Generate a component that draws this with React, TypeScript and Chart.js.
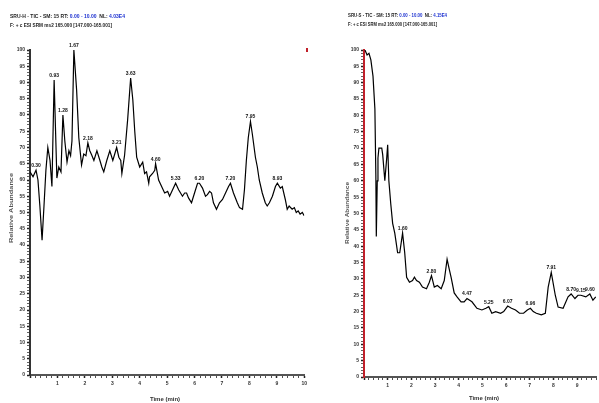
import React, { useEffect, useRef } from "react";
import { Chart, registerables } from "chart.js";
Chart.register(...registerables);

// ---- Left chromatogram (SRU-H) ----
const leftTimes = [0.0,0.11,0.22,0.29,0.36,0.44,0.51,0.58,0.65,0.73,0.8,0.88,0.98,1.05,1.13,1.2,1.27,1.35,1.42,1.48,1.53,1.6,1.7,1.78,1.88,1.96,2.04,2.11,2.18,2.25,2.33,2.44,2.55,2.62,2.69,2.8,2.91,3.02,3.09,3.16,3.24,3.31,3.35,3.45,3.56,3.67,3.75,3.82,3.89,4.0,4.11,4.18,4.25,4.33,4.36,4.47,4.55,4.58,4.69,4.8,4.91,5.02,5.09,5.2,5.31,5.42,5.49,5.56,5.64,5.71,5.78,5.89,6.0,6.11,6.18,6.29,6.4,6.47,6.55,6.62,6.69,6.8,6.91,7.02,7.13,7.24,7.31,7.42,7.56,7.64,7.75,7.82,7.89,7.96,8.04,8.11,8.22,8.29,8.36,8.47,8.58,8.65,8.73,8.84,8.95,9.02,9.13,9.2,9.31,9.38,9.45,9.56,9.64,9.71,9.78,9.85,9.93,10.0];
const leftValues = [62.5,61,63,60,52,41.5,52,63,70,66,58,90.8,60.6,64,62.5,80,72,65.5,69,67.5,72,100,87.7,73,64.6,68,67.5,71.4,69,67.7,66,69,66,64,62.5,66,69,66,68,70,67,66,62,67.7,78.5,91.4,84.6,75,67,64,65.5,62,62.5,59,61,62,63,65,60,58,56,56.5,55,57,59,57,56,55,56,56,54.5,53,56,59,59,57.5,55,55.5,56.5,56,53,51,53,54,56,58,59,56,53,51.5,51,57,66,73,78,74,67,64,60,56,53,52,53,55,58,59,57.5,58,54,51,52,51,51.5,50,50.5,49.5,50,49];
const leftPeakTimes = [0.22,0.88,1.2,1.6,2.11,3.16,3.67,4.58,5.31,6.18,7.31,8.04,9.02];
const leftPeakValues = [63,90.8,80,100,71.4,70,91.4,65,59,59,59,78,59];
const leftPeakLabels = ["0.30","0.93","1.28","1.67","2.18","3.21","3.63","4.60","5.33","6.20","7.20","7.95","8.93"];
const leftHeader1 = [["SRU-H - TIC - SM: 15 RT: ","#222"],["0.00 - 10.00","#1a2fd0"],["  NL: ","#222"],["4.03E4","#1a2fd0"]];
const leftHeader2 = "F: + c ESI SRM ms2 165.000 [147.000-165.001]";

// ---- Right chromatogram (SRU-S) ----
const rightTimes = [0.04,0.13,0.21,0.29,0.38,0.46,0.5,0.52,0.56,0.59,0.63,0.75,0.79,0.88,0.96,1.0,1.05,1.13,1.21,1.3,1.36,1.42,1.51,1.63,1.72,1.8,1.92,2.05,2.13,2.22,2.34,2.47,2.64,2.76,2.85,2.97,3.1,3.26,3.39,3.51,3.6,3.68,3.81,3.93,4.1,4.23,4.35,4.56,4.77,4.98,5.15,5.27,5.4,5.56,5.77,5.9,6.07,6.23,6.4,6.57,6.74,6.9,7.03,7.15,7.28,7.49,7.66,7.78,7.91,8.08,8.2,8.41,8.62,8.75,8.91,9.04,9.16,9.37,9.54,9.67,9.79];
const rightValues = [100,98.5,99,97,92,82,62,43,60,67,70,70,68,60,67,71,60,53,47,44,41,38,38,44,38,30.5,29,29.5,30.5,29.5,29,27.5,27,29,31,27.5,28,27,29.5,36,33,30.5,25.7,24.5,23,23,24,23,21,20.5,21,21.5,19.5,20,19.5,20,21.7,21,20.5,19.5,19.5,20.5,21,20,19.5,19,19.5,27.5,32,25,21.4,21,24.5,25.4,24,25,25,24.5,25.4,23.5,24.5];
const rightPeakTimes = [1.63,2.85,4.35,5.27,6.07,7.03,7.91,8.75,9.16,9.54];
const rightPeakValues = [44,31,24,21.5,21.7,21,32,25.4,25,25.4];
const rightPeakLabels = ["1.60","2.80","4.47","5.25","6.07","6.96","7.91","8.70","9.15","9.60"];
const rightHeader1 = [["SRU-S - TIC - SM: 15 RT: ","#222"],["0.00 - 10.00","#1a2fd0"],["  NL: ","#222"],["4.15E4","#1a2fd0"]];
const rightHeader2 = "F: + c ESI SRM ms2 165.000 [147.000-165.001]";

const yTitle = "Relative Abundance";
const xTitle = "Time (min)";

type Seg = [string, string];

function drawFitted(ctx: CanvasRenderingContext2D, segs: Seg[], x: number, y: number, w: number, font: string) {
  ctx.save();
  ctx.font = font;
  ctx.textBaseline = "middle";
  ctx.textAlign = "left";
  const total = segs.reduce((s, g) => s + ctx.measureText(g[0]).width, 0);
  const sx = w / total;
  ctx.translate(x, y);
  ctx.scale(sx, 1);
  let cx = 0;
  for (const [t, c] of segs) {
    ctx.fillStyle = c;
    ctx.fillText(t, cx, 0);
    cx += ctx.measureText(t).width;
  }
  ctx.restore();
}

interface PanelCfg {
  times: number[]; values: number[];
  peakT: number[]; peakV: number[]; peakL: string[];
  h1: Seg[]; h2: string;
  xMax: number;
  yWidth: number; xHeight: number; padRight: number;
  yAxisColor: string; yAxisDash: number[];
  h1x: number; h1w: number; h2w: number; hy: number;
  yTitleX: number; yTitleY: number; yTitleW: number;
  xTitleX: number; xTitleY: number;
  redMark?: [number, number];
}

function makeChart(canvas: HTMLCanvasElement, p: PanelCfg) {
  const textPlugin = {
    id: "texts",
    afterDraw(chart: any) {
      const ctx = chart.ctx as CanvasRenderingContext2D;
      const xs = chart.scales.x, ys = chart.scales.y;
      drawFitted(ctx, p.h1, p.h1x, p.hy, p.h1w, "bold 6px Arial");
      drawFitted(ctx, [[p.h2, "#222"]], p.h1x, p.hy + 9, p.h2w, "bold 6px Arial");
      ctx.save();
      ctx.font = "bold 5px Arial";
      ctx.fillStyle = "#111";
      ctx.textAlign = "center";
      ctx.textBaseline = "bottom";
      p.peakT.forEach((t, i) => {
        ctx.fillText(p.peakL[i], xs.getPixelForValue(t), ys.getPixelForValue(p.peakV[i]) - 2);
      });
      ctx.restore();
      // y title
      ctx.save();
      ctx.translate(p.yTitleX, p.yTitleY);
      ctx.rotate(-Math.PI / 2);
      drawFitted(ctx, [[yTitle, "#555"]], -p.yTitleW / 2, 0, p.yTitleW, "bold 5px Arial");
      ctx.restore();
      ctx.save();
      ctx.font = "bold 6px Arial";
      ctx.fillStyle = "#333";
      ctx.textAlign = "center";
      ctx.textBaseline = "middle";
      ctx.fillText(xTitle, p.xTitleX, p.xTitleY);
      ctx.restore();
      if (p.redMark) {
        ctx.save();
        ctx.fillStyle = "#c0202a";
        ctx.fillRect(p.redMark[0], p.redMark[1], 2, 4);
        ctx.restore();
      }
    },
  };
  return new Chart(canvas, {
    type: "line",
    data: {
      datasets: [{
        data: p.times.map((t, i) => ({ x: t, y: p.values[i] })),
        borderColor: "#000",
        borderWidth: 1.2,
        pointRadius: 0,
        tension: 0,
        fill: false,
      }],
    },
    options: {
      animation: false,
      responsive: false,
      events: [],
      layout: { padding: { top: 50, left: 0, right: p.padRight, bottom: 0 } },
      plugins: { legend: { display: false }, tooltip: { enabled: false } },
      scales: {
        x: {
          type: "linear", min: 0, max: p.xMax,
          afterFit: (s: any) => { s.height = p.xHeight; },
          border: { color: "#555", width: 2 },
          grid: { drawOnChartArea: false, tickLength: 3, color: "#222",
            tickWidth: (c: any) => (Math.abs(c.tick.value - Math.round(c.tick.value)) < 1e-6 ? 1.5 : 0.8) },
          ticks: {
            stepSize: 0.2, autoSkip: false, maxRotation: 0, padding: 3,
            font: { size: 5, family: "Arial", weight: "bold" }, color: "#333",
            callback: (v: any) => (Math.abs(v - Math.round(v)) < 1e-6 && Math.round(v) > 0 ? String(Math.round(v)) : ""),
          },
        },
        y: {
          min: 0, max: 100,
          afterFit: (s: any) => { s.width = p.yWidth; },
          border: { color: p.yAxisColor, width: 2, dash: p.yAxisDash },
          grid: { drawOnChartArea: false, tickLength: 3, color: "#222",
            tickWidth: (c: any) => (Math.round(c.tick.value) % 5 === 0 ? 1.5 : 0.7) },
          ticks: {
            stepSize: 1, autoSkip: false, padding: 2,
            font: { size: 5, family: "Arial", weight: "bold" }, color: "#333",
            callback: (v: any) => (Math.round(v) % 5 === 0 ? String(Math.round(v)) : ""),
          },
        },
      },
    },
    plugins: [textPlugin],
  } as any);
}

export default function App() {
  const leftRef = useRef<HTMLCanvasElement>(null);
  const rightRef = useRef<HTMLCanvasElement>(null);
  useEffect(() => {
    const c1 = makeChart(leftRef.current!, {
      times: leftTimes, values: leftValues,
      peakT: leftPeakTimes, peakV: leftPeakValues, peakL: leftPeakLabels,
      h1: leftHeader1 as Seg[], h2: leftHeader2, xMax: 10,
      yWidth: 30, xHeight: 28, padRight: 5,
      yAxisColor: "#333", yAxisDash: [],
      h1x: 10, h1w: 115, h2w: 102, hy: 16,
      yTitleX: 12, yTitleY: 208, yTitleW: 70,
      xTitleX: 165, xTitleY: 399,
      redMark: [306, 48],
    });
    const c2 = makeChart(rightRef.current!, {
      times: rightTimes, values: rightValues,
      peakT: rightPeakTimes, peakV: rightPeakValues, peakL: rightPeakLabels,
      h1: rightHeader1 as Seg[], h2: rightHeader2, xMax: 9.8,
      yWidth: 54, xHeight: 26, padRight: 1,
      yAxisColor: "#c0202a", yAxisDash: [2, 1],
      h1x: 38, h1w: 99, h2w: 89, hy: 15,
      yTitleX: 38, yTitleY: 213, yTitleW: 62,
      xTitleX: 174, xTitleY: 398,
    });
    return () => { c1.destroy(); c2.destroy(); };
  }, []);
  return (
    <div style={{ position: "absolute", left: 0, top: 0, width: 599, height: 403, background: "#fff" }}>
      <canvas ref={leftRef} width={310} height={403} style={{ position: "absolute", left: 0, top: 0 }} />
      <canvas ref={rightRef} width={289} height={403} style={{ position: "absolute", left: 310, top: 0 }} />
    </div>
  );
}
